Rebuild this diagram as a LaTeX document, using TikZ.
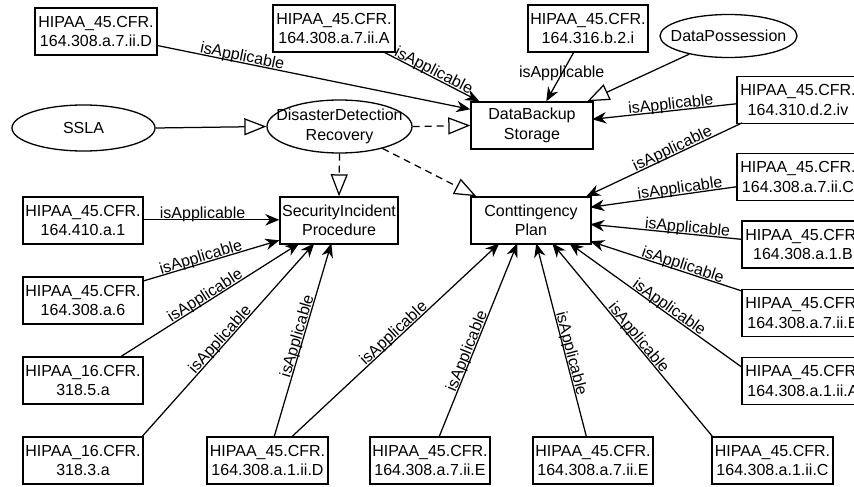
\documentclass[tikz,border=0pt]{standalone}
\usepackage{fontspec}
\setmainfont{Liberation Sans}
\usetikzlibrary{arrows.meta,shapes.geometric,calc}
\begin{document}
\begin{tikzpicture}[x=1pt,y=-1pt,
  every node/.style={font=\fontsize{16}{19.5}\selectfont},
  box/.style={draw, rectangle, minimum width=122pt, minimum height=47pt, inner sep=0pt, align=center, line width=1.4pt},
  lbox/.style={box, minimum width=120pt},
  ell/.style={draw, ellipse, inner sep=0pt, line width=1.3pt},
  txt/.style={align=center, inner sep=0pt},
  rel/.style={line width=1.25pt, -{Stealth[length=14pt,width=11.5pt,inset=4.5pt]}},
  inh/.style={line width=1.25pt, -{Triangle[open,length=22pt,width=17pt]}},
  inhd/.style={inh, dash pattern=on 7pt off 5pt},
  lab/.style={sloped, anchor=base, inner sep=0pt, yshift=1.5pt, pos=#1},
]
\useasboundingbox (0,0) rectangle (854,487);
\clip (0,0) rectangle (854,487);

% top row
\node[box] (a7iiD) at (96,31.5) {HIPAA\_45.CFR.\\164.308.a.7.ii.D};
\node[box] (a7iiA) at (334,28.5) {HIPAA\_45.CFR.\\164.308.a.7.ii.A};
\node[box, minimum width=120pt] (b2i) at (588,28.5) {HIPAA\_45.CFR.\\164.316.b.2.i};
\node[ell, minimum width=137pt, minimum height=43pt] (dposs) at (728.5,36) {};
\node[txt] (dposst) at (dposs) {DataPossession};

% middle
\node[ell, minimum width=143pt, minimum height=46pt] (ssla) at (83.5,128) {};
\node[txt] (sslat) at (ssla) {SSLA};
\node[ell, minimum width=145pt, minimum height=53pt] (ddr) at (339.5,126.5) {};
\node[txt] (ddrt) at (ddr) {DisasterDetection\\Recovery};
\node[box] (db) at (532,125.5) {DataBackup\\Storage};
\node[box] (d2iv) at (798,100) {HIPAA\_45.CFR.\\164.310.d.2.iv};

\node[box, minimum width=118pt] (sip) at (339,220.5) {SecurityIncident\\Procedure};
\node[box, minimum width=120pt] (cp) at (531,220.5) {Conttingency\\Plan};

% left column
\node[lbox] (a410) at (83,220.5) {HIPAA\_45.CFR.\\164.410.a.1};
\node[lbox] (a308a6) at (83,300.5) {HIPAA\_45.CFR.\\164.308.a.6};
\node[lbox] (s3185) at (83,380.5) {HIPAA\_16.CFR.\\318.5.a};
\node[lbox] (s3183) at (83,460.5) {HIPAA\_16.CFR.\\318.3.a};

% right column
\node[box] (a7iiC) at (798,177) {HIPAA\_45.CFR.\\164.308.a.7.ii.C};
\node[box] (a1B) at (803,244.5) {HIPAA\_45.CFR.\\164.308.a.1.B};
\node[box] (a7iiB) at (803,313) {HIPAA\_45.CFR.\\164.308.a.7.ii.B};
\node[box] (a1iiA) at (803,381) {HIPAA\_45.CFR.\\164.308.a.1.ii.A};

% bottom row
\node[box, minimum width=121pt] (a1iiD) at (267.5,460.5) {HIPAA\_45.CFR.\\164.308.a.1.ii.D};
\node[lbox] (a7iiE1) at (430,460.5) {HIPAA\_45.CFR.\\164.308.a.7.ii.E};
\node[lbox] (a7iiE2) at (593,460.5) {HIPAA\_45.CFR.\\164.308.a.7.ii.E};
\node[box, minimum width=121pt] (a1iiC) at (772.5,460.5) {HIPAA\_45.CFR.\\164.308.a.1.ii.C};

% inheritance
\draw[inh] (ssla.east) -- (ddr.west);
\draw[inhd] (ddr.east) -- (db.west);
\draw[inhd] (ddr.south) -- (sip.north);
\draw[inhd] (ddr) -- ($(cp.north west)+(6,0)$);
\draw[inh] (dposs) -- ($(db.north west)+(117,0)$);

% to DataBackup
\draw[rel] ($(a7iiD.north west)+(122,38)$) -- node[lab=0.27]{isApplicable} ($(db.north west)+(0,8)$);
\draw[rel] ($(a7iiA.north west)+(110,47)$) -- node[lab=0.5]{isApplicable} ($(db.north west)+(9,0)$);
\draw[rel] ($(b2i.north west)+(47,47)$) -- node[pos=0.45, inner sep=0pt]{isApplicable} ($(db.north west)+(76,0)$);
\draw[rel] ($(d2iv.north west)+(0,28)$) -- node[lab=0.45]{isApplicable} ($(db.north west)+(122,18)$);

% to Contingency Plan
\draw[rel] ($(d2iv.north west)+(6,47)$) -- node[lab=0.43]{isApplicable} ($(cp.north west)+(116,0)$);
\draw[rel] ($(a7iiC.north west)+(0,34)$) -- node[lab=0.38]{isApplicable} ($(cp.north west)+(120,11)$);
\draw[rel] ($(a1B.north west)+(0,19)$) -- node[lab=0.36]{isApplicable} ($(cp.north west)+(120,28)$);
\draw[rel] ($(a7iiB.north west)+(0,2)$) -- node[lab=0.40]{isApplicable} ($(cp.north west)+(120,45)$);
\draw[rel] ($(a1iiA.north west)+(0,10)$) -- node[lab=0.44]{isApplicable} ($(cp.north west)+(99,47)$);
\draw[rel] ($(a1iiC.north west)+(1,0)$) -- node[lab=0.49]{isApplicable} ($(cp.north west)+(82,47)$);
\draw[rel] ($(a7iiE2.north west)+(54,0)$) -- node[lab=0.42]{isApplicable} ($(cp.north west)+(66,47)$);
\draw[rel] ($(a7iiE1.north west)+(70,0)$) -- node[lab=0.43]{isApplicable} ($(cp.north west)+(47,47)$);
\draw[rel] ($(a1iiD.north west)+(86,0)$) -- node[lab=0.51]{isApplicable} ($(cp.north west)+(29,47)$);

% to Security Incident Procedure
\draw[rel] ($(a1iiD.north west)+(68,0)$) -- node[lab=0.51]{isApplicable} ($(sip.north west)+(52,47)$);
\draw[rel] ($(s3183.north west)+(120,0)$) -- node[lab=0.48]{isApplicable} ($(sip.north west)+(35,47)$);
\draw[rel] ($(s3185.north west)+(99,0)$) -- node[lab=0.49]{isApplicable} ($(sip.north west)+(20,47)$);
\draw[rel] ($(a308a6.north west)+(120,5)$) -- node[lab=0.44]{isApplicable} ($(sip.north west)+(0,44)$);
\draw[rel] ($(a410.north west)+(120,23.5)$) -- node[lab=0.44]{isApplicable} ($(sip.north west)+(0,23.5)$);
\end{tikzpicture}
\end{document}
